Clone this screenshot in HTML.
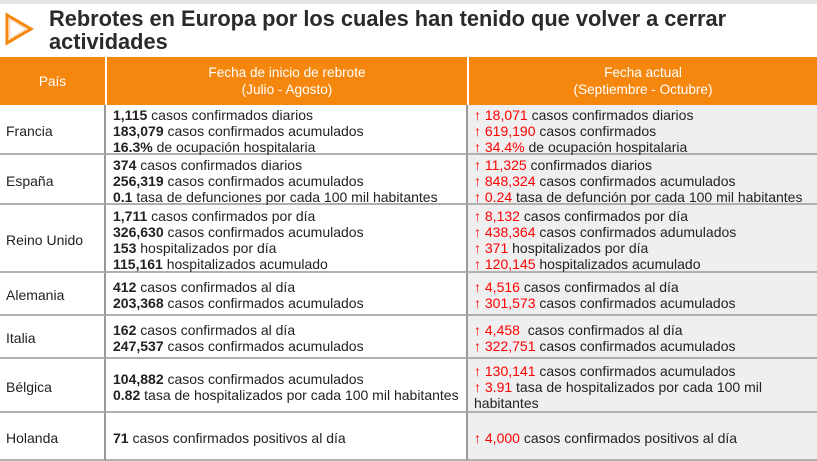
<!DOCTYPE html>
<html><head><meta charset="utf-8"><style>
*{margin:0;padding:0;box-sizing:border-box}
body{width:817px;height:456px;overflow:hidden;background:#fff;font-family:"Liberation Sans",Arial,sans-serif;color:#222;position:relative}
.top{position:absolute;left:0;top:0;width:817px;height:4px;background:#e4e4e0}
.title{position:absolute;left:49px;top:7px;font-size:21.8px;font-weight:bold;line-height:23px;color:#2a2a2a}
.hdr{position:absolute;top:57px;height:48px;background:#f5870f;color:#fff;font-size:13.6px;line-height:17px;display:flex;align-items:center;justify-content:center;text-align:center}
.cell{position:absolute;display:flex;flex-direction:column;justify-content:center;font-size:14px;line-height:16px;border-bottom:2px solid #b0b0b0;white-space:nowrap;padding-top:3px}
.c1{left:0;width:106px;padding-left:6px;border-right:2px solid #999}
.c2{left:106px;width:362px;padding-left:7px;border-right:2px solid #999}
.c3{left:468px;width:349px;padding-left:6px;background:#efefef}
.r{color:#f00}
b{font-weight:bold}
</style></head><body>
<div class="top"></div>
<svg style="position:absolute;left:4px;top:12px" width="30" height="34"><polygon points="3,3 3,31 27,17" fill="none" stroke="#f5870f" stroke-width="3"/><polygon points="6,7 6,27 22,17" fill="none" stroke="#f0d0b0" stroke-width="1"/></svg>
<div class="title">Rebrotes en Europa por los cuales han tenido que volver a cerrar<br>actividades</div>
<div class="hdr" style="left:0;width:105px">País</div>
<div class="hdr" style="left:107px;width:360px">Fecha de inicio de rebrote<br>(Julio - Agosto)</div>
<div class="hdr" style="left:469px;width:348px">Fecha actual<br>(Septiembre - Octubre)</div>

<div class="cell c1" style="top:105px;height:50px">Francia</div>
<div class="cell c2" style="top:105px;height:50px"><div><b>1,115</b> casos confirmados diarios</div><div><b>183,079</b> casos confirmados acumulados</div><div><b>16.3%</b> de ocupación hospitalaria</div></div>
<div class="cell c3" style="top:105px;height:50px"><div><span class="r">↑ 18,071</span> casos confirmados diarios</div><div><span class="r">↑ 619,190</span> casos confirmados</div><div><span class="r">↑ 34.4%</span> de ocupación hospitalaria</div></div>

<div class="cell c1" style="top:155px;height:50px">España</div>
<div class="cell c2" style="top:155px;height:50px"><div><b>374</b> casos confirmados diarios</div><div><b>256,319</b> casos confirmados acumulados</div><div><b>0.1</b> tasa de defunciones por cada 100 mil habitantes</div></div>
<div class="cell c3" style="top:155px;height:50px"><div><span class="r">↑ 11,325</span> confirmados diarios</div><div><span class="r">↑ 848,324</span> casos confirmados acumulados</div><div><span class="r">↑ 0.24</span> tasa de defunción por cada 100 mil habitantes</div></div>

<div class="cell c1" style="top:205px;height:68px">Reino Unido</div>
<div class="cell c2" style="top:205px;height:68px"><div><b>1,711</b> casos confirmados por día</div><div><b>326,630</b> casos confirmados acumulados</div><div><b>153</b> hospitalizados por día</div><div><b>115,161</b> hospitalizados acumulado</div></div>
<div class="cell c3" style="top:205px;height:68px"><div><span class="r">↑ 8,132</span> casos confirmados por día</div><div><span class="r">↑ 438,364</span> casos confirmados adumulados</div><div><span class="r">↑ 371</span> hospitalizados por día</div><div><span class="r">↑ 120,145</span> hospitalizados acumulado</div></div>

<div class="cell c1" style="top:273px;height:43px">Alemania</div>
<div class="cell c2" style="top:273px;height:43px"><div><b>412</b> casos confirmados al día</div><div><b>203,368</b> casos confirmados acumulados</div></div>
<div class="cell c3" style="top:273px;height:43px"><div><span class="r">↑ 4,516</span> casos confirmados al día</div><div><span class="r">↑ 301,573</span> casos confirmados acumulados</div></div>

<div class="cell c1" style="top:316px;height:43px">Italia</div>
<div class="cell c2" style="top:316px;height:43px"><div><b>162</b> casos confirmados al día</div><div><b>247,537</b> casos confirmados acumulados</div></div>
<div class="cell c3" style="top:316px;height:43px"><div><span class="r">↑ 4,458</span>&nbsp; casos confirmados al día</div><div><span class="r">↑ 322,751</span> casos confirmados acumulados</div></div>

<div class="cell c1" style="top:359px;height:54px">Bélgica</div>
<div class="cell c2" style="top:359px;height:54px"><div><b>104,882</b> casos confirmados acumulados</div><div><b>0.82</b> tasa de hospitalizados por cada 100 mil habitantes</div></div>
<div class="cell c3" style="top:359px;height:54px"><div><span class="r">↑ 130,141</span> casos confirmados acumulados</div><div><span class="r">↑ 3.91</span> tasa de hospitalizados por cada 100 mil</div><div>habitantes</div></div>

<div class="cell c1" style="top:413px;height:48px">Holanda</div>
<div class="cell c2" style="top:413px;height:48px"><div><b>71</b> casos confirmados positivos al día</div></div>
<div class="cell c3" style="top:413px;height:48px"><div><span class="r">↑ 4,000</span> casos confirmados positivos al día</div></div>
</body></html>
